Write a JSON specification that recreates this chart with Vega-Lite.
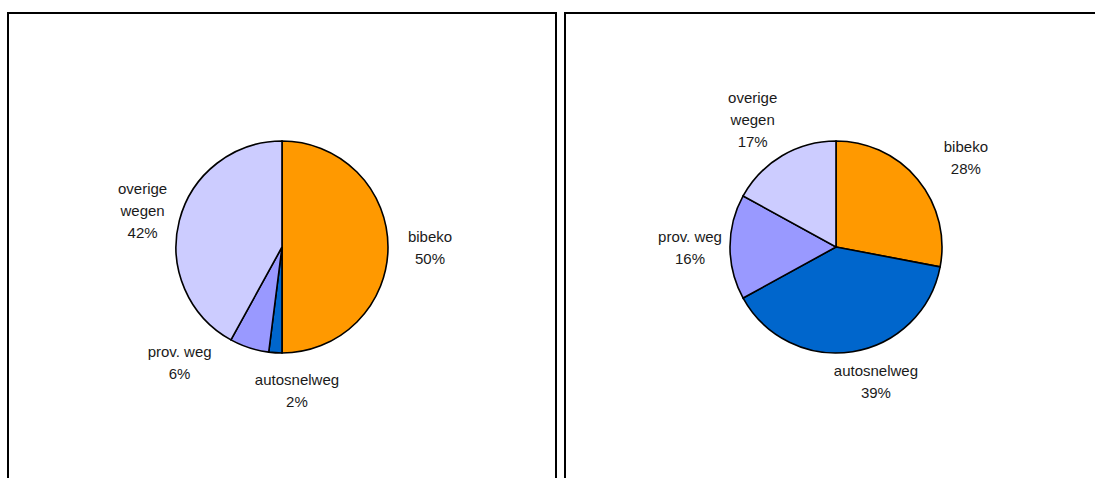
{
  "$schema": "https://vega.github.io/schema/vega-lite/v6.json",
  "padding": {"left": 7, "top": 12, "right": 0, "bottom": 0},
  "spacing": 7,
  "background": "#ffffff",
  "datasets": {
    "links": [
      {"categorie": "bibeko", "aandeel": 50, "volgorde": 1, "label": "bibeko\n50%"},
      {"categorie": "autosnelweg", "aandeel": 2, "volgorde": 2, "label": "autosnelweg\n2%"},
      {"categorie": "prov. weg", "aandeel": 6, "volgorde": 3, "label": "prov. weg\n6%"},
      {"categorie": "overige wegen", "aandeel": 42, "volgorde": 4, "label": "overige\nwegen\n42%"}
    ],
    "rechts": [
      {"categorie": "bibeko", "aandeel": 28, "volgorde": 1, "label": "bibeko\n28%"},
      {"categorie": "autosnelweg", "aandeel": 39, "volgorde": 2, "label": "autosnelweg\n39%"},
      {"categorie": "prov. weg", "aandeel": 16, "volgorde": 3, "label": "prov. weg\n16%"},
      {"categorie": "overige wegen", "aandeel": 17, "volgorde": 4, "label": "overige\nwegen\n17%"}
    ],
    "kader": [{"kader": "rand"}]
  },
  "config": {
    "view": {"stroke": null},
    "text": {"font": "Liberation Sans", "fontSize": 15, "align": "center", "baseline": "middle", "lineBreak": "\n", "lineHeight": 22, "fill": "#1a1a1a"},
    "arc": {"stroke": "#000000", "strokeWidth": 1.6, "radius": 106}
  },
  "hconcat": [
    {
      "width": 548,
      "height": 468,
      "layer": [
        {
          "data": {"name": "kader"},
          "mark": {"type": "rect", "fill": null, "stroke": "#000000", "strokeWidth": 2},
          "encoding": {}
        },
        {
          "data": {"name": "links"},
          "mark": {"type": "arc"},
          "encoding": {
            "theta": {"field": "aandeel", "type": "quantitative", "stack": true},
            "order": {"field": "volgorde", "type": "quantitative"},
            "color": {"field": "categorie", "type": "nominal", "legend": null,
              "scale": {"domain": ["bibeko", "autosnelweg", "prov. weg", "overige wegen"], "range": ["#FF9900", "#0066CC", "#9999FF", "#CCCCFF"]}}
          }
        },
        {
          "data": {"name": "links"},
          "mark": {"type": "text", "radius": 146, "dx": 2, "dy": -10},
          "encoding": {
            "theta": {"field": "aandeel", "type": "quantitative", "stack": true},
            "order": {"field": "volgorde", "type": "quantitative"},
            "detail": {"field": "categorie", "type": "nominal"},
            "text": {"condition": {"test": "datum.categorie === 'bibeko'", "field": "label"}, "value": ""}
          }
        },
        {
          "data": {"name": "links"},
          "mark": {"type": "text", "radius": 146, "dx": 2, "dy": -22},
          "encoding": {
            "theta": {"field": "aandeel", "type": "quantitative", "stack": true},
            "order": {"field": "volgorde", "type": "quantitative"},
            "detail": {"field": "categorie", "type": "nominal"},
            "text": {"condition": {"test": "datum.categorie === 'overige wegen'", "field": "label"}, "value": ""}
          }
        },
        {
          "data": {"name": "links"},
          "mark": {"type": "text", "radius": 121, "dx": -65, "dy": -10},
          "encoding": {
            "theta": {"field": "aandeel", "type": "quantitative", "stack": true},
            "order": {"field": "volgorde", "type": "quantitative"},
            "detail": {"field": "categorie", "type": "nominal"},
            "text": {"condition": {"test": "datum.categorie === 'prov. weg'", "field": "label"}, "value": ""}
          }
        },
        {
          "data": {"name": "links"},
          "mark": {"type": "text", "radius": 144, "dx": 24, "dy": -11},
          "encoding": {
            "theta": {"field": "aandeel", "type": "quantitative", "stack": true},
            "order": {"field": "volgorde", "type": "quantitative"},
            "detail": {"field": "categorie", "type": "nominal"},
            "text": {"condition": {"test": "datum.categorie === 'autosnelweg'", "field": "label"}, "value": ""}
          }
        }
      ]
    },
    {
      "width": 542,
      "height": 468,
      "layer": [
        {
          "data": {"name": "kader"},
          "mark": {"type": "rect", "fill": null, "stroke": "#000000", "strokeWidth": 2},
          "encoding": {}
        },
        {
          "data": {"name": "rechts"},
          "mark": {"type": "arc"},
          "encoding": {
            "theta": {"field": "aandeel", "type": "quantitative", "stack": true},
            "order": {"field": "volgorde", "type": "quantitative"},
            "color": {"field": "categorie", "type": "nominal", "legend": null,
              "scale": {"domain": ["bibeko", "autosnelweg", "prov. weg", "overige wegen"], "range": ["#FF9900", "#0066CC", "#9999FF", "#CCCCFF"]}}
          }
        },
        {
          "data": {"name": "rechts"},
          "mark": {"type": "text", "radius": 148, "dx": 2, "dy": -10},
          "encoding": {
            "theta": {"field": "aandeel", "type": "quantitative", "stack": true},
            "order": {"field": "volgorde", "type": "quantitative"},
            "detail": {"field": "categorie", "type": "nominal"},
            "text": {"condition": {"test": "datum.categorie === 'prov. weg'", "field": "label"}, "value": ""}
          }
        },
        {
          "data": {"name": "rechts"},
          "mark": {"type": "text", "radius": 148, "dx": -8, "dy": -22},
          "encoding": {
            "theta": {"field": "aandeel", "type": "quantitative", "stack": true},
            "order": {"field": "volgorde", "type": "quantitative"},
            "detail": {"field": "categorie", "type": "nominal"},
            "text": {"condition": {"test": "datum.categorie === 'overige wegen'", "field": "label"}, "value": ""}
          }
        },
        {
          "data": {"name": "rechts"},
          "mark": {"type": "text", "radius": 140, "dx": 22, "dy": -11},
          "encoding": {
            "theta": {"field": "aandeel", "type": "quantitative", "stack": true},
            "order": {"field": "volgorde", "type": "quantitative"},
            "detail": {"field": "categorie", "type": "nominal"},
            "text": {"condition": {"test": "datum.categorie === 'bibeko'", "field": "label"}, "value": ""}
          }
        },
        {
          "data": {"name": "rechts"},
          "mark": {"type": "text", "radius": 140, "dx": 18, "dy": -14},
          "encoding": {
            "theta": {"field": "aandeel", "type": "quantitative", "stack": true},
            "order": {"field": "volgorde", "type": "quantitative"},
            "detail": {"field": "categorie", "type": "nominal"},
            "text": {"condition": {"test": "datum.categorie === 'autosnelweg'", "field": "label"}, "value": ""}
          }
        }
      ]
    }
  ]
}
